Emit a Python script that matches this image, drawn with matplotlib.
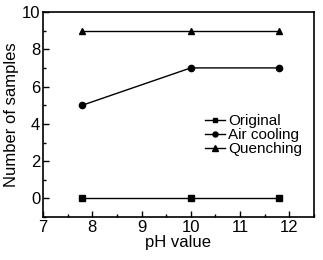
import matplotlib
matplotlib.use("Agg")
import matplotlib.pyplot as plt
from matplotlib.ticker import MultipleLocator

plt.rcParams['font.family'] = ['Liberation Sans', 'DejaVu Sans']

ph = [7.8, 10, 11.8]
original = [0, 0, 0]
air_cooling = [5, 7, 7]
quenching = [9, 9, 9]

fig = plt.figure(figsize=(3.23, 2.60), dpi=100)
ax = fig.add_axes([0.133, 0.165, 0.839, 0.789])

ax.plot(ph, original, '-s', color='black', lw=1.0, ms=4, label='Original')
ax.plot(ph, air_cooling, '-o', color='black', lw=1.0, ms=4.5, label='Air cooling')
ax.plot(ph, quenching, '-^', color='black', lw=1.0, ms=5, label='Quenching')

ax.set_xlim(7, 12.5)
ax.set_ylim(-1, 10)
ax.xaxis.set_major_locator(MultipleLocator(1))
ax.xaxis.set_minor_locator(MultipleLocator(0.5))
ax.yaxis.set_major_locator(MultipleLocator(2))
ax.yaxis.set_minor_locator(MultipleLocator(1))
ax.tick_params(which='both', direction='in', labelsize=12, width=1)
ax.tick_params(which='major', length=4, pad=2)
ax.tick_params(which='minor', length=2.5)
for s in ax.spines.values():
    s.set_linewidth(1.2)

ax.set_xlabel('pH value', fontsize=12, labelpad=0)
ax.set_ylabel('Number of samples', fontsize=12, labelpad=2)

ax.legend(loc='center right', bbox_to_anchor=(0.995, 0.40), frameon=False,
          fontsize=11, handlelength=1.3, handletextpad=0.2, labelspacing=0.0,
          borderpad=0.2, markerscale=0.8)

fig.savefig('out.png', dpi=100)
